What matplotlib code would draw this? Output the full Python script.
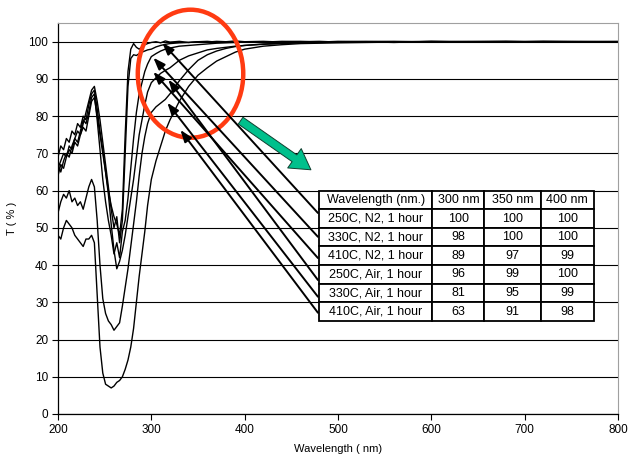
import matplotlib.pyplot as plt
from matplotlib.patches import Ellipse

plt.rcParams['font.family'] = ['Liberation Sans', 'DejaVu Sans']

# wavelength grid (nm)
wavelength = [200, 203, 206, 209, 212, 215, 218, 221, 224, 227, 230, 233, 236, 239,
              242, 245, 248, 251, 254, 257, 260, 263, 266, 269, 272, 275, 278, 281,
              284, 287, 290, 293, 296,
              300, 305, 310, 315, 320, 330, 340, 350, 360, 370, 380, 390, 400,
              420, 440, 460, 480, 500, 530, 560, 600, 640, 680, 720, 760, 800]

t_250_n2 = [69, 72, 71, 74, 73, 76, 75, 78, 77, 80, 79, 83, 86, 87,
            82, 76, 71, 65, 60, 56, 53, 51, 48, 55, 75, 92, 98, 99.5, 98.5, 98, 98.6, 99.2, 99.5,
            99.8, 100, 99.7, 100.2, 99.9, 100.1, 99.8, 100, 100.1, 99.9, 100, 100.2, 100,
            99.9, 100.1, 100, 99.9, 100.1, 100, 99.8, 100.1, 100, 99.9, 100.1, 100, 100.1]
t_330_n2 = [66, 68, 70, 69, 72, 71, 74, 76, 75, 78, 81, 84, 87, 88,
            84, 79, 73, 67, 61, 55, 50, 53, 46, 52, 70, 88, 95.5, 96.5, 96.3, 96.8, 97.2, 97.5, 97.8,
            98, 98.6, 99, 99.3, 99.5, 99.7, 99.8, 100, 99.9, 100.1, 100, 99.9, 100,
            100.1, 99.9, 100, 100.1, 99.9, 100, 100.1, 99.9, 100, 100.1, 99.9, 100, 100]
t_410_n2 = [64, 67, 66, 69, 71, 70, 73, 72, 75, 77, 76, 80, 84, 85,
            80, 75, 70, 65, 59, 51, 44, 39, 41, 44, 48, 53, 58, 63, 69, 75, 79, 83, 86.5,
            89, 90.3, 91.5, 92.3, 93, 95, 96.2, 97, 97.8, 98.2, 98.5, 98.8, 99,
            99.3, 99.5, 99.7, 99.8, 99.9, 100, 99.9, 100, 100.1, 100, 99.9, 100, 100]
t_250_air = [67, 65, 68, 70, 69, 72, 74, 73, 76, 79, 78, 81, 85, 86,
             79, 71, 63, 57, 52, 48, 43, 46, 42, 49, 52, 58, 66, 74, 81, 86, 89, 92, 94,
             96, 96.8, 97.5, 98, 98.3, 98.8, 99, 99.2, 99.4, 99.6, 99.7, 99.8, 100,
             99.9, 100, 100.1, 99.9, 100, 100.1, 100, 99.9, 100, 100.1, 100, 99.9, 100]
t_330_air = [54, 57, 59, 58, 60, 57, 58, 56, 57, 55, 58, 61, 63, 61,
             52, 40, 31, 27, 25, 24, 22.5, 23.5, 24.5, 29, 34, 39, 45, 51, 57, 64, 70, 74.5, 78,
             81, 82.5, 83.5, 84.5, 86, 89.5, 92.5, 95, 96.5, 97.5, 98.2, 98.7, 99,
             99.4, 99.6, 99.8, 99.9, 100, 99.9, 100, 100.1, 99.9, 100, 100, 100.1, 100]
t_410_air = [48, 47, 50, 52, 51, 50, 48, 47, 46, 45, 47, 47, 48, 46,
             32, 18, 11, 8, 7.5, 7, 7.5, 8.5, 9, 10, 12, 14.5, 18, 23, 30, 37, 43, 49, 56,
             63, 68, 72, 76, 79, 84, 88, 91, 93, 94.8, 96, 97.2, 98,
             98.8, 99.2, 99.5, 99.6, 99.7, 99.8, 99.9, 100, 99.9, 100, 100.1, 100, 100]

# table
col_labels = ['Wavelength (nm.)', '300 nm', '350 nm', '400 nm']
row_labels = ['250C, N2, 1 hour', '330C, N2, 1 hour', '410C, N2, 1 hour',
              '250C, Air, 1 hour', '330C, Air, 1 hour', '410C, Air, 1 hour']
t_300 = [100, 98, 89, 96, 81, 63]
t_350 = [100, 100, 97, 99, 95, 91]
t_400 = [100, 100, 99, 100, 99, 98]

# arrow heads near the curves and tails at the table edge
arrow_heads = [(311.8, 99.7), (302.2, 95.7), (302.2, 91.9),
               (318.3, 89.8), (317.2, 83.6), (331.2, 76.3)]
arrow_tail_x = 478.5
arrow_tail_y = [54.0, 47.6, 41.9, 36.0, 31.5, 27.2]

fig = plt.figure(figsize=(6.4, 4.62), dpi=100)
ax = fig.add_axes([0.0906, 0.1039, 0.875, 0.8461])

for series in [t_250_n2, t_330_n2, t_410_n2, t_250_air, t_330_air, t_410_air]:
    ax.plot(wavelength, series, color='black', lw=1.0, zorder=2)

ax.set_xlim(200, 800)
ax.set_ylim(0, 105)
ax.set_xticks(range(200, 801, 100))
ax.set_yticks(range(0, 101, 10))
ax.yaxis.grid(True, color='black', lw=0.8)
ax.set_axisbelow(True)
ax.tick_params(labelsize=8.5, length=4, width=0.8, direction='out', pad=3)
ax.set_xlabel('Wavelength ( nm)', fontsize=8, labelpad=6)
ax.set_ylabel('T ( % )', fontsize=8, labelpad=8)
for s in ['top', 'right']:
    ax.spines[s].set_color('#a0a0a0')
for s in ['left', 'bottom']:
    ax.spines[s].set_linewidth(0.9)

# red circle round the 300-350 nm region
ax.add_patch(Ellipse((342, 91.4), 113, 34.4, fill=False, ec='#ff3b12', lw=3.2,
                     zorder=3, clip_on=False))

for (hx, hy), ty in zip(arrow_heads, arrow_tail_y):
    ax.annotate('', xy=(hx, hy), xytext=(arrow_tail_x, ty),
                arrowprops=dict(arrowstyle='-|>,head_length=0.55,head_width=0.2',
                                mutation_scale=13, color='black', lw=1.4,
                                shrinkA=0, shrinkB=0), zorder=4)

# green arrow pointing at the table
ax.annotate('', xy=(471, 65.6), xytext=(395.7, 78.8),
            arrowprops=dict(arrowstyle='simple,head_width=1.0,head_length=0.85,tail_width=0.35',
                            mutation_scale=17, fc='#00c08c', ec='#104030', lw=0.7,
                            shrinkA=0, shrinkB=0), zorder=4)

cells = [[r, str(a), str(b), str(c)] for r, a, b, c in zip(row_labels, t_300, t_350, t_400)]
tab = ax.table(cellText=cells, colLabels=col_labels, cellLoc='center',
               colWidths=[113, 52, 56, 53],
               bbox=[(479.6 - 200) / 600, 25 / 105, (774 - 479.6) / 600, 35 / 105])
tab.auto_set_font_size(False)
tab.set_fontsize(9)
tab.set_zorder(5)
for cell in tab.get_celld().values():
    cell.set_linewidth(1.3)
    cell.set_edgecolor('black')
    cell.PAD = 0.02

fig.savefig('out.png', dpi=100)
